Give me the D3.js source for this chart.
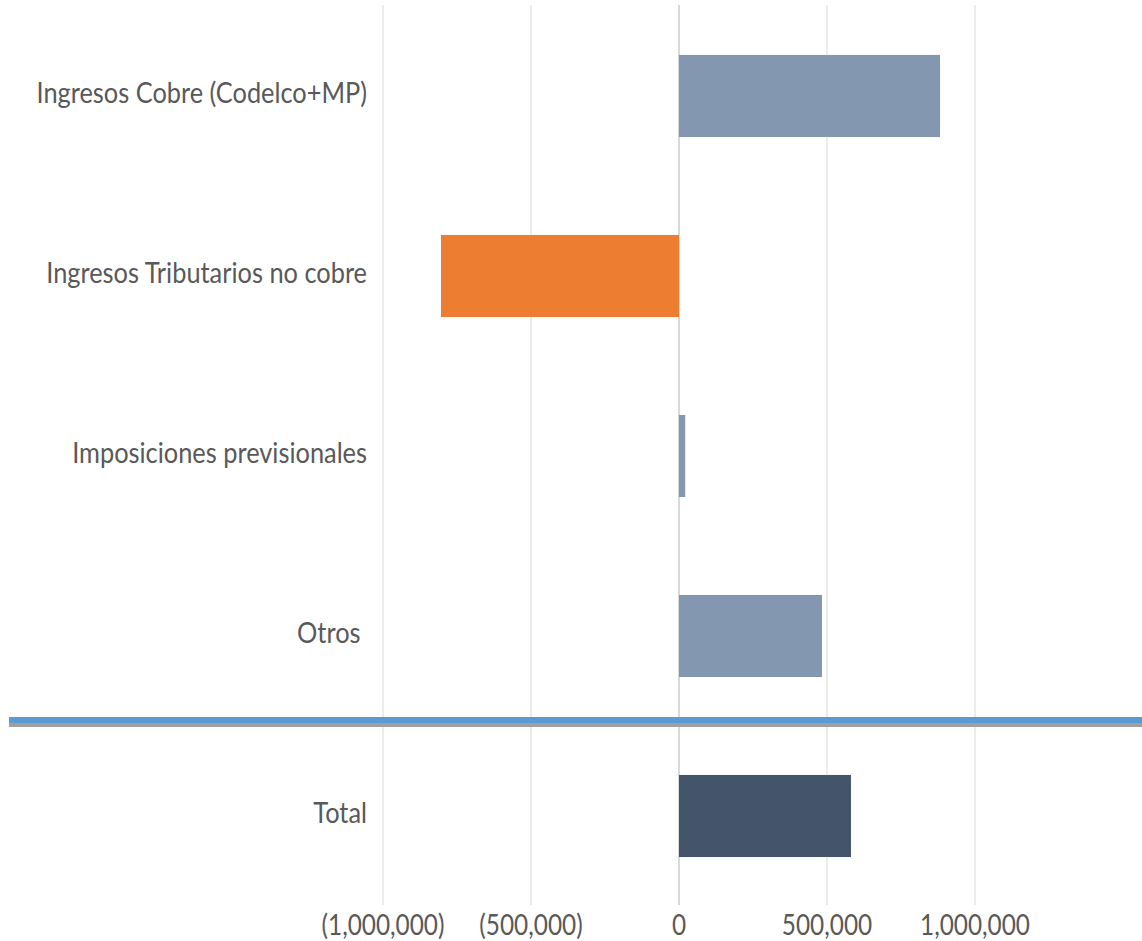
<!DOCTYPE html>
<html>
<head>
<meta charset="utf-8">
<script src="https://cdn.jsdelivr.net/npm/d3@7"></script>
<style>
  html, body { margin: 0; padding: 0; background: #fff; }
  svg { display: block; }
  text { font-family: Lato, "Open Sans", sans-serif; fill: #595959; white-space: pre; }
</style>
</head>
<body>
<svg id="chart" width="1142" height="941"></svg>
<script>
const categories = ["Ingresos Cobre (Codelco+MP)", "Ingresos Tributarios no cobre", "Imposiciones previsionales", "Otros ", "Total"];
const values = [882000, -804000, 21000, 483000, 581000];
const kinds = ["up", "down", "up", "up", "total"];
const tickValues = [-1000000, -500000, 0, 500000, 1000000];
const tickLabels = ["(1,000,000)", "(500,000)", "0", "500,000", "1,000,000"];

const colors = { up: "#8497b0", down: "#ed7d31", total: "#44546a" };
const FONT = 29, SX_CAT = 0.875, SX_TICK = 0.87;

const svg = d3.select("#chart");
const x = d3.scaleLinear().domain([-1000000, 1000000]).range([383, 975]);
const y = d3.scaleBand().domain(categories).range([6, 906]).paddingInner(0.544).paddingOuter(0.272);

// gridlines
svg.append("g").selectAll("line").data(tickValues).join("line")
  .attr("x1", d => x(d)).attr("x2", d => x(d))
  .attr("y1", 5).attr("y2", 905)
  .attr("stroke", d => d === 0 ? "#d9d9d9" : "#ececec")
  .attr("stroke-width", 2);

// bars
svg.append("g").selectAll("rect").data(categories).join("rect")
  .attr("x", (d, i) => x(Math.min(0, values[i])))
  .attr("width", (d, i) => Math.abs(x(values[i]) - x(0)))
  .attr("y", d => y(d))
  .attr("height", y.bandwidth())
  .attr("fill", (d, i) => colors[kinds[i]]);

// category labels
svg.append("g").selectAll("text").data(categories).join("text")
  .attr("transform", d => `translate(367, ${y(d) + y.bandwidth() / 2 + 7}) scale(${SX_CAT},1)`)
  .attr("text-anchor", "end")
  .attr("font-size", FONT)
  .text(d => d);

// x tick labels
svg.append("g").selectAll("text").data(tickValues).join("text")
  .attr("transform", d => `translate(${x(d)}, 935) scale(${SX_TICK},1)`)
  .attr("text-anchor", "middle")
  .attr("font-size", 28)
  .text((d, i) => tickLabels[i]);

// separator line before Total
const sepY = y("Total") - y.step() * y.paddingInner() / 2;
svg.append("rect").attr("x", 9).attr("y", sepY - 9).attr("width", 1133).attr("height", 6).attr("fill", "#5b9bd5");
svg.append("rect").attr("x", 9).attr("y", sepY - 3).attr("width", 1133).attr("height", 4).attr("fill", "#a0a0a0");
</script>
</body>
</html>
